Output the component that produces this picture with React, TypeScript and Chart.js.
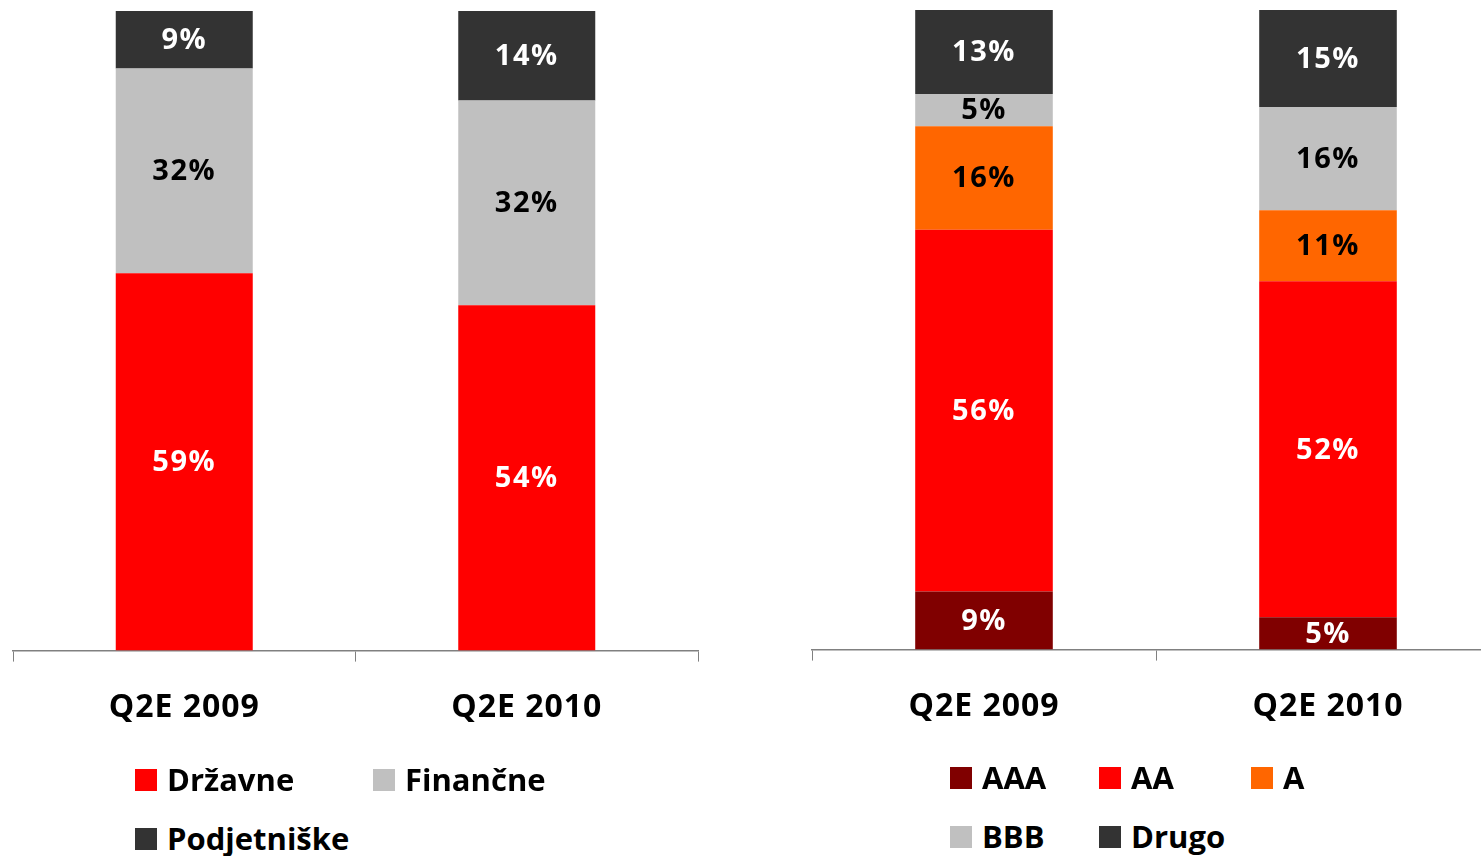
import React, { useEffect, useRef } from "react";
import { Chart, registerables } from "chart.js";

Chart.register(...registerables);

// ---------- data ----------
const categories = ["Q2E 2009", "Q2E 2010"];

// left chart: by issuer
const sectorNames = ["Državne", "Finančne", "Podjetniške"];
const drzavne = [59, 54];
const financne = [32, 32];
const podjetniske = [9, 14];
const sectorMax = 100;

// right chart: by rating
const ratingNames = ["AAA", "AA", "A", "BBB", "Drugo"];
const aaa = [9, 5];
const aa = [56, 52];
const aRated = [16, 11];
const bbb = [5, 16];
const drugo = [13, 15];
const ratingMax = 99;

// ---------- styles ----------
const FONT = "'Open Sans', 'Noto Sans', sans-serif";
const C_RED = "#FF0000";
const C_GREY = "#C0C0C0";
const C_DARK = "#333333";
const C_MAROON = "#800000";
const C_ORANGE = "#FF6600";
const AXIS = "#808080";

const segLabelPlugin = {
  id: "segLabels",
  afterDatasetsDraw(chart: any) {
    const ctx = chart.ctx;
    ctx.save();
    ctx.font = `700 29px ${FONT}`;
    ctx.textAlign = "center";
    ctx.textBaseline = "middle";
    (ctx as any).letterSpacing = "1.5px";
    chart.data.datasets.forEach((ds: any, i: number) => {
      const meta = chart.getDatasetMeta(i);
      meta.data.forEach((bar: any, j: number) => {
        const v = ds.data[j];
        const p = bar.getProps(["x", "y", "base"], true);
        ctx.fillStyle = ds.labelColor;
        ctx.fillText(v + "%", p.x, (p.y + p.base) / 2 + 1);
      });
    });
    ctx.restore();
  },
};

const spacingPlugin = {
  id: "tickSpacing",
  beforeDraw(chart: any) {
    (chart.ctx as any).letterSpacing = "1px";
  },
  afterDraw(chart: any) {
    (chart.ctx as any).letterSpacing = "0px";
  },
};

function makeConfig(datasets: any[], max: number, padding: any) {
  return {
    type: "bar" as const,
    data: {
      labels: categories,
      datasets: datasets.map((d) => ({
        ...d,
        barPercentage: 0.4,
        categoryPercentage: 1,
        borderWidth: 0,
      })),
    },
    options: {
      responsive: false,
      maintainAspectRatio: false,
      animation: false as const,
      layout: { padding },
      plugins: { legend: { display: false }, tooltip: { enabled: false } },
      scales: {
        x: {
          stacked: true,
          offset: true,
          grid: {
            display: true,
            offset: true,
            drawOnChartArea: false,
            drawTicks: true,
            tickLength: 11,
            color: AXIS,
            lineWidth: 1,
          },
          border: { display: true, color: AXIS, width: 1.5 },
          ticks: {
            color: "#000",
            padding: 27,
            font: { family: FONT, weight: "bold" as const, size: 32 },
          },
        },
        y: { stacked: true, display: false, min: 0, max },
      },
    },
    plugins: [segLabelPlugin, spacingPlugin],
  };
}

function BarChart(props: { config: any; left: number; width: number; height: number }) {
  const ref = useRef<HTMLCanvasElement>(null);
  useEffect(() => {
    const chart = new Chart(ref.current as HTMLCanvasElement, props.config);
    return () => chart.destroy();
  }, []);
  return (
    <canvas
      ref={ref}
      width={props.width}
      height={props.height}
      style={{ position: "absolute", left: props.left, top: 0, width: props.width, height: props.height }}
    />
  );
}

function Legend(props: { items: { name: string; color: string; left: number; top: number }[] }) {
  return (
    <>
      {props.items.map((it) => (
        <div
          key={it.name}
          style={{
            position: "absolute",
            left: it.left,
            top: it.top,
            height: 23,
            display: "flex",
            alignItems: "center",
            whiteSpace: "nowrap",
          }}
        >
          <div style={{ width: 22, height: 22, background: it.color, marginRight: 10 }} />
          <span style={{ fontFamily: FONT, fontWeight: 700, fontSize: 31, lineHeight: 1, color: "#000" }}>
            {it.name}
          </span>
        </div>
      ))}
    </>
  );
}

const leftConfig = makeConfig(
  [
    { label: sectorNames[0], data: drzavne, backgroundColor: C_RED, labelColor: "#fff" },
    { label: sectorNames[1], data: financne, backgroundColor: C_GREY, labelColor: "#000" },
    { label: sectorNames[2], data: podjetniske, backgroundColor: C_DARK, labelColor: "#fff" },
  ],
  sectorMax,
  { left: 13, right: 22, top: 11, bottom: 6 }
);

const rightConfig = makeConfig(
  [
    { label: ratingNames[0], data: aaa, backgroundColor: C_MAROON, labelColor: "#fff" },
    { label: ratingNames[1], data: aa, backgroundColor: C_RED, labelColor: "#fff" },
    { label: ratingNames[2], data: aRated, backgroundColor: C_ORANGE, labelColor: "#000" },
    { label: ratingNames[3], data: bbb, backgroundColor: C_GREY, labelColor: "#000" },
    { label: ratingNames[4], data: drugo, backgroundColor: C_DARK, labelColor: "#fff" },
  ],
  ratingMax,
  { left: 12, right: 20, top: 10, bottom: 7 }
);

const leftLegend = [
  { name: sectorNames[0], color: C_RED, left: 135, top: 768 },
  { name: sectorNames[1], color: C_GREY, left: 373, top: 768 },
  { name: sectorNames[2], color: C_DARK, left: 135, top: 827 },
];

const rightLegend = [
  { name: ratingNames[0], color: C_MAROON, left: 950, top: 766 },
  { name: ratingNames[1], color: C_RED, left: 1099, top: 766 },
  { name: ratingNames[2], color: C_ORANGE, left: 1251, top: 766 },
  { name: ratingNames[3], color: C_GREY, left: 950, top: 825 },
  { name: ratingNames[4], color: C_DARK, left: 1099, top: 825 },
];

export default function App() {
  return (
    <div
      style={{
        position: "fixed",
        left: 0,
        top: 0,
        width: 1481,
        height: 856,
        overflow: "hidden",
        background: "#fff",
      }}
    >
      <BarChart config={leftConfig} left={0} width={720} height={760} />
      <BarChart config={rightConfig} left={800} width={720} height={760} />
      <Legend items={leftLegend} />
      <Legend items={rightLegend} />
    </div>
  );
}
